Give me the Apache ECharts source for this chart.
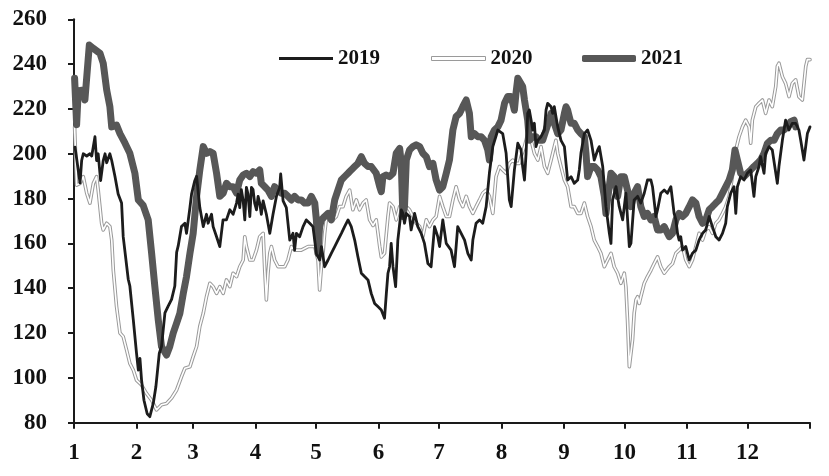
<!DOCTYPE html>
<html>
<head>
<meta charset="utf-8">
<script src="https://cdn.jsdelivr.net/npm/echarts@6/dist/echarts.min.js"></script>
<style>
html,body{margin:0;padding:0;background:#fff;}
#chart{width:829px;height:476px;}
</style>
</head>
<body>
<div id="chart"></div>
<script>
// x = day of year (0 = 1 Jan), y = value
const monthStarts = [0,31,59,90,120,151,181,212,243,273,304,334];
const tickDays = [0,31,59,90,120,151,181,212,243,273,304,334,365];
const monthLabels = ['1','2','3','4','5','6','7','8','9','10','11','12'];
const yTicks = [80,100,120,140,160,180,200,220,240,260];

const s2019 = [[0.5,203],[3,187],[3.8,197],[4.6,200],[6.3,199],[7.9,200],[8.8,199],[10.4,207.6],[11.2,197],[12,200],[13.2,188],[14.5,197],[15.4,200],[16.2,196],[17.8,200],[18.7,197],[20.3,190],[21.9,182],[23.6,178],[24.4,163],[26.9,144],[27.7,141],[29.4,126],[31,111],[31.9,103.5],[32.7,108.7],[33.5,99],[34.7,90],[36.3,84],[37.6,82.7],[39.3,88.6],[40.6,96],[42.3,111],[43.4,114],[45.1,129],[46.7,132],[48.4,135],[50,141],[50.9,156],[51.7,159],[53.3,167.5],[55,169],[55.8,164.5],[57.5,176],[58.3,182],[59.9,188],[60.8,190],[62.4,176],[63.2,172],[64.1,167.5],[65.7,173],[66.5,169],[68.2,173],[69,167.5],[70.7,163],[72.3,158.6],[73.9,170.5],
[75.6,170.5],[77.3,175],[78.9,173],[80.6,178],[81.4,182],[82.2,176],[83,184],[83.9,179],[84.7,170.5],[85.5,185],[86.3,182],[87.2,172],[88,185],[88.8,184],[89.6,178],[90.5,175],[91.3,181],[92.1,178],[92.9,173],[93.8,179],[95.4,173],[97.1,164.5],[98.7,173],[100.4,181],[102,185],[102.5,191],[103.7,179],[105.3,176],[107,161.5],[108.6,164.5],[109.4,157],[110.3,164.5],[111.9,163],[113.6,167.5],[115.2,170.5],[116.9,169],[118.5,167.5],[120.2,155.6],[121.8,152.6],[122.7,158.6],[124.3,149.6],[126,152.6],[127.6,155.6],[129.3,158.6],[130.9,161.5],[132.6,164.5],[134.2,167.5],[135.9,170.5],[137.5,167.5],[139.2,161.5],[140.8,154],[142.5,146.7],[144.1,145.2],[145.8,143.7],[147.4,137.7],[149.1,133.2],
[150.7,131.8],[152.4,130.3],[154,126.6],[154.9,137.7],[155.7,146.7],[156.5,149.6],[157.3,160],[158.2,149.6],[159.5,140.7],[160.6,161.5],[162.3,175],[163.1,173.4],[163.9,169],[164.8,173.4],[166.4,172],[167.2,166],[168.9,173.4],[170.5,167.5],[172.2,164.5],[173.8,160],[175.5,151],[177.1,149.6],[178.8,167.5],[180.4,163],[181.3,158.6],[182.9,170.5],[184.6,160],[187,157],[188.7,149.6],[190.3,167.5],[192,164.5],[193.7,161.5],[195.3,155.6],[197,152.6],[197.8,161.5],[199.4,169],[201.1,170.5],[202.7,169],[204.4,176.4],[206,191.3],[207.7,203.2],[210.2,210.6],[212.6,209],[214.3,200.2],[215.9,179.4],[216.8,176.4],[218.4,192.8],[220.1,204.7],
[221.7,201.7],[222.5,194.3],[223.4,188.3],[224.2,200.2],[225,218],[225.8,219.5],[226.7,215],[227.5,210.6],[228.3,213.6],[229.1,203.2],[230,206],[231.6,207.6],[233.3,210.6],[234.1,219.5],[234.9,222.5],[236.6,221],[237.4,218],[238.2,221],[239,216.6],[239.9,212],[241.5,206],[243.2,203.2],[244,195.7],[244.8,188.3],[246.5,189.8],[248.1,186.8],[249.8,188.3],[250.6,192.8],[251.4,200.2],[253.1,209],[254.7,210.6],[256.4,206],[258,197.2],[259.7,201.7],[260.5,203.2],[262.2,194.3],[263.8,176.4],[265.5,164.5],[266.3,160],[267.1,179.4],[268.8,185.3],[270.4,176.4],[272.1,170.5],[272.9,176.4],[273.7,182.4],[275.4,158.6],[276.2,160],[277.8,179.4],[279.5,181],[281.1,178],[282.8,182.4],[284.4,188.3],[286.1,188.3],[286.9,185.3],[288.6,172],[289.4,175],[291,182.4],[292.7,183.8],
[294.3,182.4],[296,185.3],[296.8,179.4],[297.6,173.4],[298.5,170.5],[299.3,164.5],[300.1,161.5],[300.9,163],[301.8,157],[303.4,158.6],[305.1,152.6],[306.7,155.6],[308.4,157],[310,161.5],[311.7,164.5],[313.3,166],[315,172],[316.6,167.5],[318.3,163],[319.9,161.5],[321.6,164.5],[323.2,169],[324,176.4],[325.7,182.4],[327.3,185.3],[328.2,173.4],[329,185.3],[330.6,189.8],[332.3,188.3],[333.9,191.3],[335.6,192.8],[337.2,181],[338.1,189.8],[339.7,194.3],[340.5,198.7],[342.2,191.3],[343,200.2],[344.7,203.2],[346.3,201.7],[348.8,186.8],[349.6,194.3],[351.3,206],[352.9,215],[354.6,210.6],[356.2,213.6],[357.9,213.6],[359.5,210.6],[360.4,206],[362,197.2],[363.7,209],[365,212]];

const s2020 = [[0.3,212],[1.3,186],[3,186.8],[4.6,189.8],[6.3,182.4],[7.9,178],[9.6,186.8],[11.2,189.8],[12,183.8],[13.7,169],[14.5,166],[16.2,169],[17.8,167.5],[18.7,161.5],[19.5,148],[21.1,131.8],[22.8,120],[24.4,118.4],[26.1,112.4],[27.7,106.5],[29.4,103.5],[31,99],[33.5,96.8],[36,93],[38.5,90],[40.9,85.7],[43.4,88],[45.9,88.6],[48.4,91],[50.9,94.6],[53.3,100.5],[55,104.3],[57.5,105],[59.1,109.5],[60.8,114],[62.4,123],[64.1,128.8],[65.7,136.2],[67.4,142.2],[69,140.7],[70.7,137.7],[72.3,140.7],[74,137.7],[75.6,143.7],[77.3,140.7],[78.9,146.7],[80.6,145.2],[82.2,149.6],[83.9,152.6],[84.7,163],[85.5,158.6],[87.2,152.6],[88.8,152.6],[90.5,157],[92.1,163],[93.8,164.5],[94.6,148],[95.4,134.8],[96.2,146.7],[97.1,155.6],[97.9,158.6],[99.5,152.6],[101.2,149.6],[102.8,149.6],[104.5,149.6],[106.1,152.6],[107.8,158.6],[109.4,157],[112.7,157],[116.1,158.6],[119.4,158.6],[121,152.6],[121.8,139.2],[122.7,149.6],[123.5,155.6],[124.3,164.5],[125.1,170.5],[126.8,173.4],[128.4,170.5],[130.1,172],[131.7,176.4],[133.4,176.4],[135,181],[136.7,183.8],[138.3,175],[140,179.4],[141.6,175],[143.3,178],[144.9,179.4],[146.6,170.5],[148.3,168],[149.9,170.5],[151.6,158.6],[152.4,154],[154,155.6],[155.7,172],[156.5,178],[158.2,176.4],[159.8,170.5],[161.5,176.4],[163.1,178],[164.8,176.4],[166.4,175],[168.1,172],[169.7,169],[171.4,167.5],[173,163],[174.7,170.5],[176.3,167.5],[178,170.5],[179.6,172],[181.3,181],[182.9,176.4],[184.6,172],[186.2,172],[187.9,179.4],[189.5,185.3],[191.2,179.4],[192.8,176.4],[194.5,181],[196.1,176.4],[197.8,173.4],[199.4,176.4],[201.1,179.4],[202.7,182.4],[204.4,183.8],[206,181],[207.7,173.4],[209.3,189.8],[211,194.3],[212.6,192.8],[214.3,191.3],[215.9,195.7],[217.6,197.2],[219.2,195.7],[220.9,195.7],[221.7,198.7],[223.4,203.2],[225,209],[226.7,206],[228.3,200.2],[230,197.2],[231.6,203.2],[233.3,194.3],[234.9,191.3],[236.6,197.2],[238.2,203.2],[239,206],[239.9,200.2],[241.5,194.3],[243.2,188.3],[244.8,185.3],[246.5,176.4],[248.1,176.4],[249.8,173.4],[251.4,173.4],[253.1,178],[254.7,172],[256.4,167.5],[258,161.5],[259.7,158.6],[261.3,155.6],[263,149.6],[264.6,152.6],[266.3,155.6],[267.9,149.6],[269.6,146.7],[271.2,142.2],[272.9,146.7],[273.7,140.7],[274.5,125.8],[275.4,105],[276.2,105],[277,117],[277.8,128.8],[278.7,134.8],[279.5,136.2],[280.3,133.2],[281.1,136.2],[282.8,142.2],[284.4,145.2],[286.1,148],[287.7,151],[289.4,154],[291,149.6],[292.7,146.7],[293.5,146.7],[295.2,149.6],[296.8,151],[298.5,155.6],[300.1,157],[301.8,158.6],[303.4,152.6],[305.1,149.6],[306.7,152.6],[308.4,158.6],[310,164.5],[311.7,161.5],[313.3,166],[315,167.5],[316.6,164.5],[318.3,169],[319.9,170.5],[321.6,173.4],[323.2,176.4],[324.9,181],[326.5,189.8],[328.2,201.7],[329.8,207.6],[331.5,212],[333.1,215],[334.8,212],[335.6,204.7],[336.4,215],[338.1,221],[339.7,222.5],[341.4,224],[343,218],[344.7,224],[346.3,221],[348,230],[348.8,239],[349.6,240.4],[351.3,234.4],[352.9,231.4],[354.6,225.5],[356.2,231.4],[357.9,233],[359.5,225.5],[361.2,224],[362.9,239],[363.7,242],[365,242]];

const s2021 = [[0.3,233.7],[1.3,213],[2.1,228],[4.6,228.5],[5.4,224],[7.6,248.5],[9.6,247],[12.9,244.8],[14.5,240.4],[16.2,228.5],[17.8,221],[18.7,212],[21.1,212.8],[22.8,209],[25.3,204.7],[27.7,200.2],[30.2,191.3],[31.9,179.4],[34.3,177],[36.8,170.5],[38.5,155.6],[40.1,140.7],[41.8,125.8],[43.4,114],[45.9,110.2],[47.5,114],[49.2,120],[50.9,124.4],[52.5,128.8],[54.2,137.7],[55.8,145.2],[57.5,155.6],[59.1,164.5],[60.8,181],[62.4,192.8],[64.1,203.2],[65.7,200.2],[67.4,201],[69,200.2],[70.7,191.3],[72.3,181],[74,182.4],[75.6,186.8],[77.3,185.3],[78.9,185.3],[80.6,182.4],[82.2,188.3],[83.9,190.5],[85.5,191.3],[87.2,189.8],[88.8,192],[90.5,191.3],[92.1,192.8],[92.9,186.8],[94.6,185.3],[96.2,183.8],[97.9,181],[99.5,185.3],[101.2,183.8],[102.8,182.4],[104.5,182.4],[106.1,181],[107.8,179.4],[109.4,181],[111.1,179.4],[112.7,179.4],[114.4,178],[116.1,178],[117.7,181],[119.4,178],[120.2,170.5],[121,155.6],[121.8,167.5],[122.7,170.5],[124.3,172],[126,173.4],[127.6,170.5],[129.3,179.4],[130.9,183.8],[132.6,188.3],[134.2,189.8],[135.9,191.3],[137.5,192.8],[139.2,194.3],[140.8,195.7],[142.5,198.7],[144.1,195.7],[145.8,194.3],[147.4,194.3],[149.9,191.3],[151.6,185.3],[152.4,183.1],[153.2,189.8],[154.9,190.5],[156.5,189.8],[158.2,191.3],[159.8,200.2],[161.5,202.4],[162.3,195.7],[163.1,172],[163.9,176.4],[164.8,197.2],[166.4,201.7],[168.1,203.2],[169.7,204],[171.4,203.2],[173,200.2],[174.7,198.7],[176.3,194.3],[178,195.7],[179.6,188.3],[181.3,183.8],[182.9,185.3],[184.6,191.3],[186.2,197.2],[187.9,210.6],[189.5,216.6],[191.2,218],[192.8,221],[194.5,224],[196.1,218],[197,207.6],[198.6,209],[200.3,207.6],[201.9,207.6],[203.6,206],[205.2,201.7],[206,197.2],[206.9,207.6],[208.5,210.6],[210.2,212],[211.8,215],[213.5,222.5],[215.1,225.5],[216.8,225.5],[218.4,219.5],[219.2,227],[220.1,233.7],[222.5,230],[223.4,224],[225,215],[225.8,206],[227.5,207.6],[229.1,207.6],[230.8,206],[232.4,206],[234.1,210.6],[235.7,215],[236.6,218],[238.2,213.6],[239.9,209],[241.5,210.6],[243.2,218],[244,221],[244.8,219.5],[245.6,216.6],[246.5,213.6],[248.1,213.6],[249.8,210.6],[251.4,209],[253.1,207.6],[253.9,200.2],[254.7,189.8],[256.4,194.3],[258,194.3],[259.7,192.8],[261.3,189.8],[263,181],[263.8,173.4],[264.6,179.4],[266.3,191.3],[267.9,189.8],[269.6,181],[271.2,189.8],[272.9,189.8],[274.5,183.8],[276.2,176.4],[277.8,182.4],[279.5,185.3],[281.1,176.4],[282.8,172],[284.4,173.4],[286.1,170.5],[287.7,172],[289.4,166],[291,166],[292.7,167.5],[293.5,166],[295.2,163],[296.8,164.5],[298.5,170.5],[300.1,173.4],[301.8,172],[303.4,173.4],[305.1,176.4],[306.7,179.4],[308.4,178],[310,172],[311.7,169],[313.3,170.5],[315,175],[316.6,176.4],[318.3,178],[319.9,179.4],[321.6,182.4],[323.2,185.3],[324.9,188.3],[326.5,192.8],[327.8,201.7],[329,197.2],[330.6,191.3],[332.3,189.8],[333.9,191.3],[335.6,192.8],[337.2,194.3],[338.9,195.7],[340.5,197.2],[342.2,200.2],[343.9,204.7],[345.5,206],[347.2,206],[348.8,209],[350.5,210.6],[352.1,210.6],[353.8,212],[355.4,214.3],[357.1,215],[357.9,212]];

const FONT = "'Liberation Serif','Times New Roman',serif";
const chart = echarts.init(document.getElementById('chart'), null, {renderer:'canvas'});

function legendFor(name, left, h, icon, itemStyle) {
  return {
    data: [name], left: left, top: 43, icon: icon,
    itemWidth: 54, itemHeight: h, itemGap: 0,
    itemStyle: itemStyle,
    textStyle: {fontFamily: FONT, fontWeight: 'bold', fontSize: 21, color: '#111', padding: 0},
    selectedMode: false
  };
}

chart.setOption({
  animation: false,
  backgroundColor: '#fff',
  grid: {left: 74, right: 19, top: 19.3, bottom: 53.3, containLabel: false},
  legend: [
    legendFor('2019', 274, 3, 'rect', {color: '#1c1c1c'}),
    legendFor('2020', 426, 4, 'rect', {color: '#ffffff', borderColor: '#9a9a9a', borderWidth: 1}),
    legendFor('2021', 577, 7, 'roundRect', {color: '#575757'})
  ],
  xAxis: {
    type: 'value', min: 0, max: 365,
    axisLine: {show: true, lineStyle: {color: '#1a1a1a', width: 2}},
    axisTick: {show: true, customValues: tickDays, length: 6, lineStyle: {color: '#1a1a1a', width: 2}},
    axisLabel: {
      customValues: monthStarts, margin: 19,
      formatter: function (v) { const i = monthStarts.indexOf(Math.round(v)); return i >= 0 ? monthLabels[i] : ''; },
      fontFamily: FONT, fontWeight: 'bold', fontSize: 23, color: '#111'
    },
    splitLine: {show: false}
  },
  yAxis: {
    type: 'value', min: yTicks[0], max: yTicks[yTicks.length-1], interval: 20,
    axisLine: {show: true, lineStyle: {color: '#1a1a1a', width: 2}},
    axisTick: {show: true, length: 6, lineStyle: {color: '#1a1a1a', width: 2}},
    axisLabel: {margin: 27, fontFamily: FONT, fontWeight: 'bold', fontSize: 23, color: '#111'},
    splitLine: {show: false}
  },
  series: [
    {name: '2020-outline', type: 'line', data: s2020, showSymbol: false, silent: true,
     lineStyle: {color: '#9a9a9a', width: 3.6, join: 'round', cap: 'round'}, z: 1},
    {name: '2020', type: 'line', data: s2020, showSymbol: false,
     itemStyle: {color: '#ffffff'},
     lineStyle: {color: '#ffffff', width: 1.6, join: 'round', cap: 'round'}, z: 2},
    {name: '2021', type: 'line', data: s2021, showSymbol: false,
     itemStyle: {color: '#575757'},
     lineStyle: {color: '#575757', width: 7, join: 'round', cap: 'round'}, z: 3},
    {name: '2019', type: 'line', data: s2019, showSymbol: false,
     itemStyle: {color: '#1c1c1c'},
     lineStyle: {color: '#1c1c1c', width: 2.8, join: 'round', cap: 'round'}, z: 4}
  ]
});
</script>
</body>
</html>
